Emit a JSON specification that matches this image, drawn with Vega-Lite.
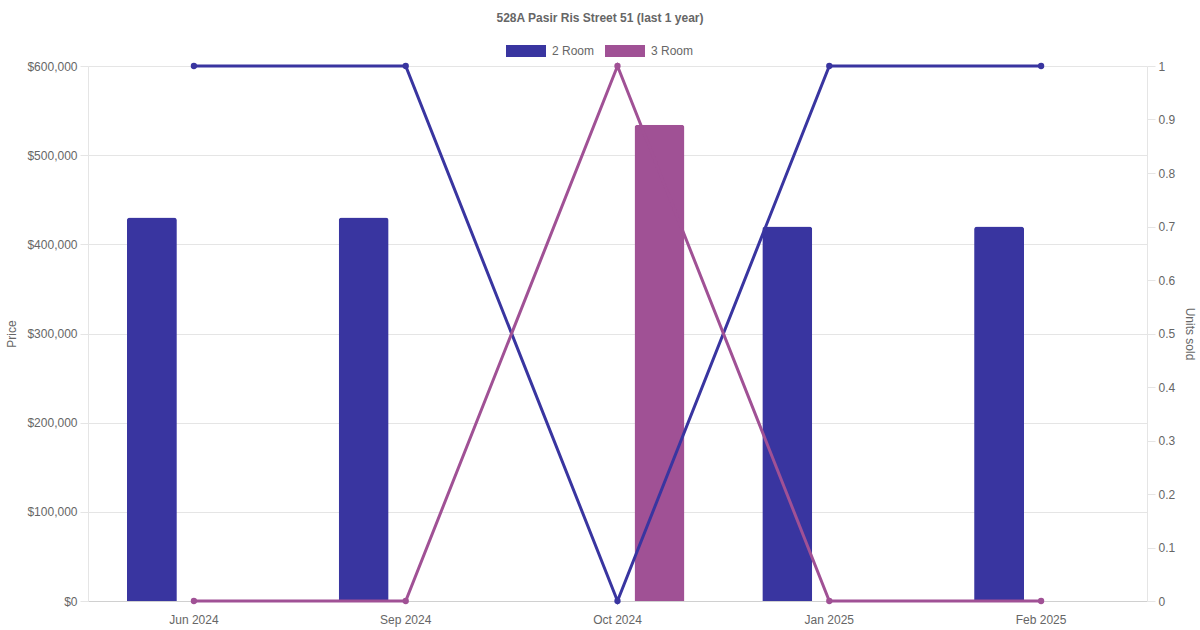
{
  "$schema": "https://vega.github.io/schema/vega-lite/v6.json",
  "width": 1059,
  "height": 535,
  "autosize": {"type": "none"},
  "padding": {"left": 88, "top": 66, "right": 53, "bottom": 29},
  "background": "white",
  "title": {
    "text": "528A Pasir Ris Street 51 (last 1 year)",
    "font": "Liberation Sans",
    "fontSize": 12,
    "fontWeight": "bold",
    "color": "#666666",
    "anchor": "middle",
    "dx": -17.5,
    "dy": -2
  },
  "config": {
    "view": {"stroke": null},
    "axis": {
      "labelFont": "Liberation Sans",
      "labelFontSize": 12,
      "labelColor": "#666666",
      "titleFont": "Liberation Sans",
      "titleFontSize": 12,
      "titleFontWeight": "normal",
      "titleColor": "#666666"
    }
  },
  "data": {
    "values": [
      {"month": "Jun 2024", "type": "2 Room", "price": 430000, "units": 1},
      {"month": "Sep 2024", "type": "2 Room", "price": 430000, "units": 1},
      {"month": "Oct 2024", "type": "2 Room", "price": null, "units": 0},
      {"month": "Jan 2025", "type": "2 Room", "price": 420000, "units": 1},
      {"month": "Feb 2025", "type": "2 Room", "price": 420000, "units": 1},
      {"month": "Jun 2024", "type": "3 Room", "price": null, "units": 0},
      {"month": "Sep 2024", "type": "3 Room", "price": null, "units": 0},
      {"month": "Oct 2024", "type": "3 Room", "price": 534000, "units": 1},
      {"month": "Jan 2025", "type": "3 Room", "price": null, "units": 0},
      {"month": "Feb 2025", "type": "3 Room", "price": null, "units": 0}
    ]
  },
  "encoding": {
    "x": {
      "field": "month",
      "type": "nominal",
      "sort": ["Jun 2024", "Sep 2024", "Oct 2024", "Jan 2025", "Feb 2025"],
      "scale": {"paddingInner": 0, "paddingOuter": 0},
      "axis": {
        "title": null,
        "labelAngle": 0,
        "ticks": false,
        "tickSize": 0,
        "labelPadding": 13,
        "domain": true,
        "domainColor": "#d0d0d0",
        "grid": false
      }
    },
    "color": {
      "field": "type",
      "type": "nominal",
      "scale": {"domain": ["2 Room", "3 Room"], "range": ["#3935a0", "#a05195"]},
      "legend": {
        "title": null,
        "orient": "none",
        "legendX": 418,
        "legendY": -35,
        "direction": "horizontal",
        "padding": 0,
        "symbolType": "M-1,-0.3H1V0.3H-1Z",
        "symbolSize": 1600,
        "symbolStrokeWidth": 0,
        "symbolOpacity": 1,
        "labelFont": "Liberation Sans",
        "labelFontSize": 12,
        "labelColor": "#666666",
        "labelOffset": 6,
        "columnPadding": 10
      }
    }
  },
  "layer": [
    {
      "mark": {"type": "bar", "cornerRadiusTopLeft": 3, "cornerRadiusTopRight": 3},
      "encoding": {
        "xOffset": {
          "field": "type",
          "type": "nominal",
          "scale": {"domain": ["2 Room", "3 Room"], "paddingInner": 0.405, "paddingOuter": 0.463}
        },
        "y": {
          "field": "price",
          "type": "quantitative",
          "scale": {"domain": [0, 600000], "nice": false},
          "axis": {
            "title": "Price",
            "orient": "left",
            "values": [0, 100000, 200000, 300000, 400000, 500000, 600000],
            "format": "$,.0f",
            "grid": true,
            "gridColor": "#e5e5e5",
            "tickColor": "#e5e5e5",
            "tickSize": 8,
            "labelPadding": 3,
            "domain": true,
            "domainColor": "#e5e5e5",
            "titleX": -77,
            "titleY": 267.5,
            "titleAngle": -90,
            "titleAlign": "center",
            "titleBaseline": "middle"
          }
        }
      }
    },
    {
      "mark": {"type": "line", "strokeWidth": 3, "point": {"filled": true, "size": 40}},
      "encoding": {
        "y": {
          "field": "units",
          "type": "quantitative",
          "scale": {"domain": [0, 1], "nice": false},
          "axis": {
            "title": "Units sold",
            "orient": "right",
            "values": [0, 0.1, 0.2, 0.3, 0.4, 0.5, 0.6, 0.7, 0.8, 0.9, 1],
            "format": ".1~f",
            "grid": false,
            "tickColor": "#e5e5e5",
            "tickSize": 8,
            "labelPadding": 3,
            "domain": true,
            "domainColor": "#e5e5e5",
            "titleX": 42,
            "titleY": 267.5,
            "titleAngle": 90,
            "titleAlign": "center",
            "titleBaseline": "middle"
          }
        }
      }
    }
  ],
  "resolve": {"scale": {"y": "independent"}}
}
